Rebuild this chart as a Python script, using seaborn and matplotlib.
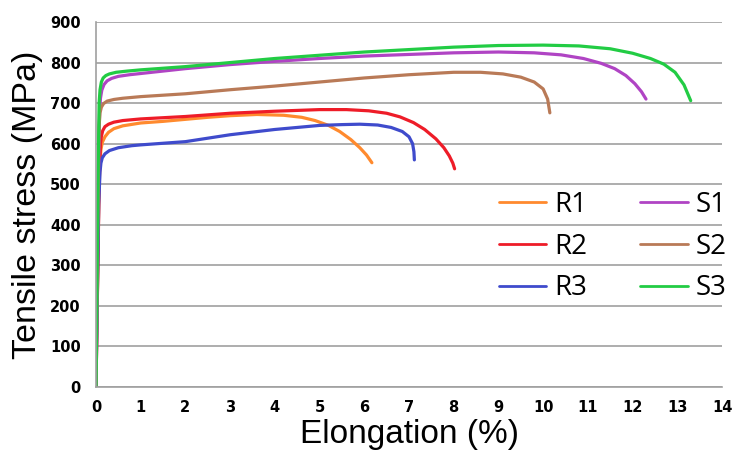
import pandas as pd
import matplotlib
matplotlib.use('Agg')
import matplotlib.pyplot as plt
import seaborn as sns

# strain (%) / stress (MPa) points
r1_e = [0, 0.06, 0.09, 0.11, 0.14, 0.2, 0.28, 0.4, 0.6, 1.0, 1.5, 2.0, 2.5, 3.0, 3.6, 4.2, 4.6, 4.9, 5.2, 5.45, 5.7, 5.9, 6.05, 6.17]
r1_s = [0, 450, 560, 585, 603, 617, 628, 637, 644, 651, 655, 660, 665, 669, 672, 670, 665, 657, 645, 630, 610, 590, 572, 553]

r2_e = [0, 0.07, 0.1, 0.12, 0.15, 0.2, 0.28, 0.4, 0.6, 1.0, 1.5, 2.0, 3.0, 4.0, 5.0, 5.6, 6.1, 6.5, 6.8, 7.1, 7.35, 7.6, 7.78, 7.9, 7.98, 8.02]
r2_s = [0, 500, 600, 618, 632, 642, 648, 653, 657, 661, 664, 667, 675, 680, 684, 684, 681, 675, 666, 652, 635, 612, 590, 570, 552, 538]

r3_e = [0, 0.06, 0.09, 0.11, 0.14, 0.2, 0.3, 0.5, 0.8, 1.0, 2.0, 3.0, 4.0, 5.0, 5.5, 5.9, 6.3, 6.6, 6.85, 7.0, 7.08, 7.11, 7.12]
r3_s = [0, 450, 530, 552, 565, 575, 583, 590, 595, 597, 605, 622, 635, 645, 647, 648, 646, 640, 630, 617, 600, 580, 560]

s1_e = [0, 0.05, 0.08, 0.1, 0.13, 0.18, 0.25, 0.35, 0.5, 0.75, 1.0, 2.0, 3.0, 4.0, 5.0, 6.0, 7.0, 8.0, 9.0, 9.8, 10.4, 10.9, 11.3, 11.6, 11.85, 12.05, 12.2, 12.3]
s1_s = [0, 500, 680, 712, 732, 746, 755, 761, 766, 770, 773, 785, 795, 803, 810, 816, 820, 824, 826, 824, 819, 810, 798, 785, 768, 748, 728, 710]

s2_e = [0, 0.05, 0.07, 0.09, 0.12, 0.17, 0.25, 0.4, 0.6, 1.0, 2.0, 3.0, 4.0, 5.0, 6.0, 7.0, 8.0, 8.6, 9.1, 9.5, 9.8, 10.0, 10.1, 10.15]
s2_s = [0, 500, 645, 676, 690, 699, 705, 709, 712, 716, 723, 733, 742, 752, 762, 770, 776, 776, 772, 764, 752, 735, 710, 676]

s3_e = [0, 0.05, 0.07, 0.09, 0.12, 0.16, 0.22, 0.3, 0.45, 0.7, 1.0, 2.0, 3.0, 4.0, 5.0, 6.0, 7.0, 8.0, 9.0, 10.0, 10.8, 11.5, 12.0, 12.4, 12.7, 12.95, 13.15, 13.3]
s3_s = [0, 550, 700, 733, 752, 762, 768, 772, 776, 779, 782, 790, 800, 810, 818, 826, 832, 838, 842, 843, 841, 834, 823, 810, 796, 776, 745, 706]

names = ['R1', 'R2', 'R3', 'S1', 'S2', 'S3']
colors = ['#FF8A2E', '#EE1C28', '#3F4BCC', '#B044C4', '#B97A57', '#22CC44']

curves = [(r1_e, r1_s), (r2_e, r2_s), (r3_e, r3_s), (s1_e, s1_s), (s2_e, s2_s), (s3_e, s3_s)]
frames = []
for name, (e, s) in zip(names, curves):
    frames.append(pd.DataFrame({'elong': e, 'stress': s, 'sample': name}))
df = pd.concat(frames, ignore_index=True)

sns.set_style('white')
plt.rcParams['font.family'] = ['DejaVu Sans']
plt.rcParams['text.color'] = 'black'
plt.rcParams['axes.labelcolor'] = 'black'
plt.rcParams['xtick.color'] = 'black'
plt.rcParams['ytick.color'] = 'black'

fig = plt.figure(figsize=(7.34, 4.5), dpi=100)
ax = fig.add_axes([96 / 734, 1 - 387 / 450, (722 - 96) / 734, (387 - 22) / 450])

sns.lineplot(data=df, x='elong', y='stress', hue='sample', palette=dict(zip(names, colors)),
             sort=False, estimator=None, linewidth=2.3, ax=ax)

ax.set_xlim(0, 14)
ax.set_ylim(0, 900)
ax.set_xticks(range(0, 15))
ax.set_yticks(range(0, 901, 100))
ax.yaxis.grid(True, color='#a0a0a0', linewidth=1.2)
ax.set_axisbelow(True)
for side in ['top', 'right']:
    ax.spines[side].set_visible(False)
for side in ['left', 'bottom']:
    ax.spines[side].set_color('#a0a0a0')
    ax.spines[side].set_linewidth(1.2)
ax.tick_params(axis='x', direction='inout', length=6, width=1, color='#a0a0a0',
               labelcolor='black', pad=6)
ax.tick_params(axis='y', length=0, pad=11, labelcolor='black')
for lab in ax.get_xticklabels() + ax.get_yticklabels():
    lab.set_fontweight('bold')
    lab.set_fontsize(10.5)

ax.set_xlabel('Elongation (%)', fontsize=24, family='Liberation Sans', labelpad=3, color='black')
ax.set_ylabel('Tensile stress (MPa)', fontsize=24.5, family='Liberation Sans', labelpad=5, color='black')

h, l = ax.get_legend_handles_labels()
for hh in h:
    hh.set_linewidth(2)
ax.legend(h, l, ncol=2, frameon=False, loc='center', bbox_to_anchor=(0.835, 0.452),
          bbox_transform=fig.transFigure, prop={'family': 'Open Sans', 'size': 20},
          handlelength=1.7, handletextpad=0.3, columnspacing=1.9, labelspacing=0.5,
          labelcolor='black')

fig.savefig('out.png', dpi=100)
